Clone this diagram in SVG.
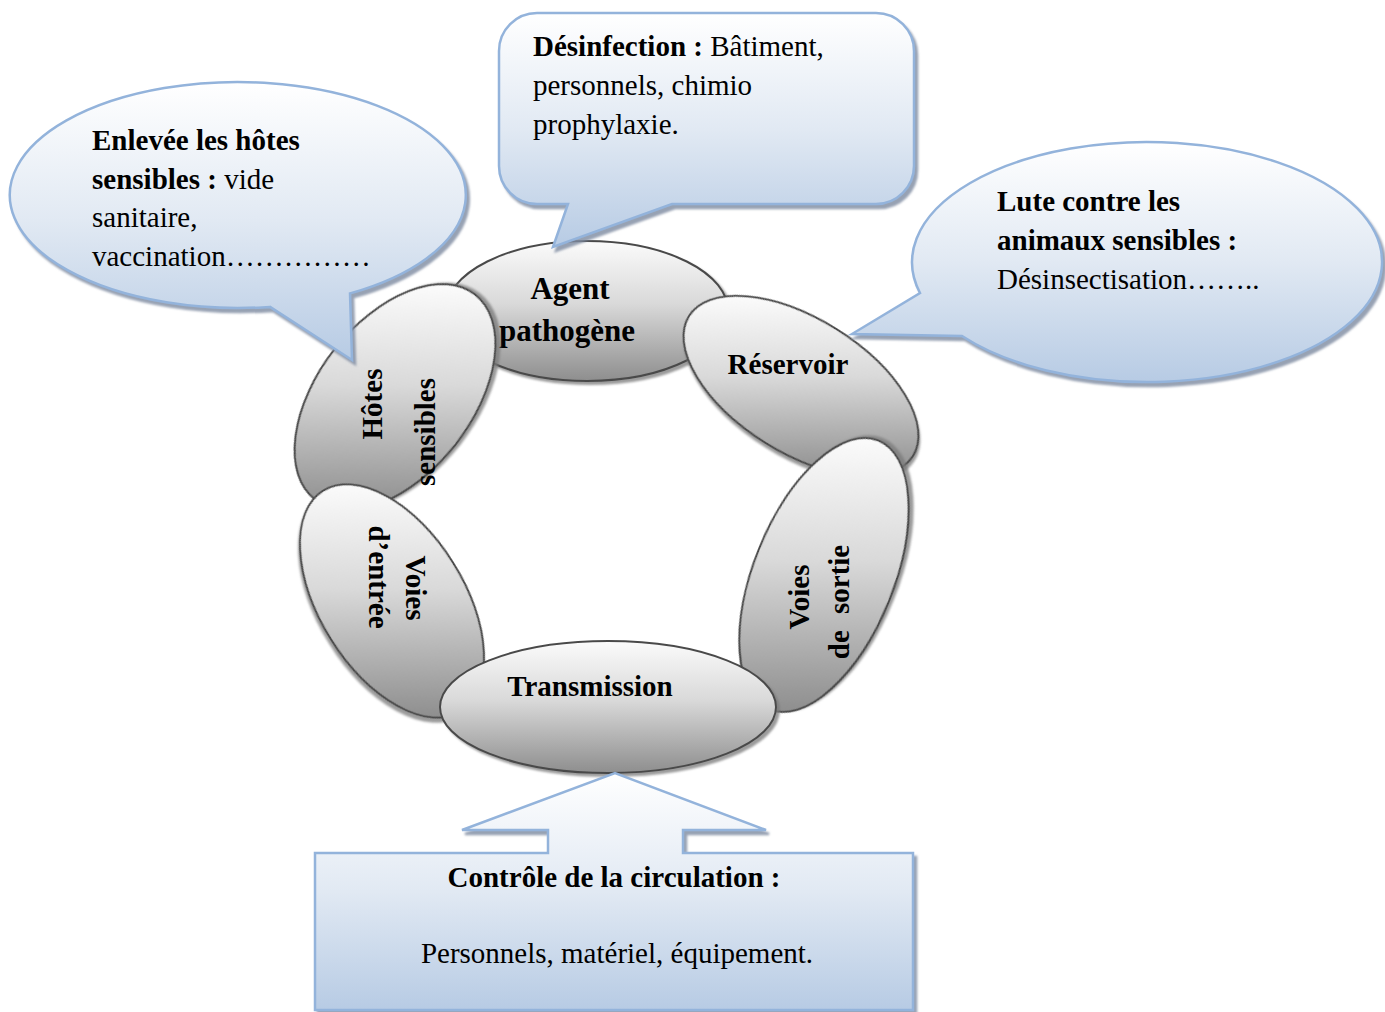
<svg xmlns="http://www.w3.org/2000/svg" xmlns:xlink="http://www.w3.org/1999/xlink" width="1385" height="1012" viewBox="0 0 1385 1012">
<style>
.t{font-family:"Liberation Serif","Times New Roman",serif;font-size:29px;fill:#000}
.b{font-weight:bold}
.node{stroke:#4a4a4a;stroke-width:2}
.call{stroke:#93b3db;stroke-width:2.5}
</style>
<defs>
<linearGradient id="gray" x1="0" y1="0" x2="0" y2="1">
<stop offset="0" stop-color="#fbfbfb"/><stop offset="0.45" stop-color="#d9d9d9"/><stop offset="1" stop-color="#8e8e8e"/>
</linearGradient>
<linearGradient id="gHotes" href="#gray" xlink:href="#gray" gradientUnits="userSpaceOnUse" x1="395" y1="285" x2="395" y2="509" gradientTransform="rotate(52 395 397)"/>
<linearGradient id="gRes" href="#gray" xlink:href="#gray" gradientUnits="userSpaceOnUse" x1="801" y1="296" x2="801" y2="476" gradientTransform="rotate(-32 801 386)"/>
<linearGradient id="gSortie" href="#gray" xlink:href="#gray" gradientUnits="userSpaceOnUse" x1="824" y1="438" x2="824" y2="712" gradientTransform="rotate(68 824 575)"/>
<linearGradient id="gEntree" href="#gray" xlink:href="#gray" gradientUnits="userSpaceOnUse" x1="392" y1="484" x2="392" y2="718" gradientTransform="rotate(-58 392 601)"/>
<linearGradient id="blue" x1="0" y1="0" x2="0" y2="1">
<stop offset="0" stop-color="#ffffff"/><stop offset="0.5" stop-color="#e1e9f3"/><stop offset="1" stop-color="#b7cbe4"/>
</linearGradient>
<filter id="sh" x="-10%" y="-10%" width="120%" height="125%">
<feDropShadow dx="3" dy="3" stdDeviation="1.2" flood-color="#7a7a7a" flood-opacity="0.75"/>
</filter>
<filter id="shb" x="-10%" y="-10%" width="120%" height="125%">
<feDropShadow dx="3" dy="4" stdDeviation="1.2" flood-color="#7d8aa0" flood-opacity="0.8"/>
</filter>
</defs>

<g id="connectors"></g>

<g id="agent">
<ellipse class="node" cx="587" cy="311" rx="141" ry="70" fill="url(#gray)" filter="url(#sh)"/>
<text class="t b" x="570" y="299" text-anchor="middle" style="font-size:31px">Agent</text>
<text class="t b" x="567" y="341" text-anchor="middle" style="font-size:31px">pathogène</text>
</g>

<g id="hotes">
<ellipse class="node" cx="395" cy="397" rx="130" ry="77" transform="rotate(-52 395 397)" fill="url(#gHotes)" filter="url(#sh)"/>
<text class="t b" transform="translate(382 404) rotate(-90)" text-anchor="middle">Hôtes</text>
<text class="t b" transform="translate(435 432) rotate(-90)" text-anchor="middle">sensibles</text>
</g>

<g id="reservoir">
<ellipse class="node" cx="801" cy="386" rx="132" ry="67" transform="rotate(32 801 386)" fill="url(#gRes)" filter="url(#sh)"/>
<text class="t b" x="788" y="374" text-anchor="middle">Réservoir</text>
</g>

<g id="sortie">
<ellipse class="node" cx="824" cy="575" rx="145" ry="70" transform="rotate(-68 824 575)" fill="url(#gSortie)" filter="url(#sh)"/>
<text class="t b" transform="translate(809 597) rotate(-90)" text-anchor="middle">Voies</text>
<text class="t b" transform="translate(849 602) rotate(-90)" text-anchor="middle"><tspan>de</tspan><tspan dx="9"> sortie</tspan></text>
</g>

<g id="entree">
<ellipse class="node" cx="392" cy="601" rx="130" ry="72" transform="rotate(58 392 601)" fill="url(#gEntree)" filter="url(#sh)"/>
<text class="t b" transform="translate(406 588) rotate(90)" text-anchor="middle">Voies</text>
<text class="t b" transform="translate(369 577) rotate(90)" text-anchor="middle">d’entrée</text>
</g>

<g id="transmission">
<ellipse class="node" cx="608" cy="707" rx="168" ry="66" fill="url(#gray)" filter="url(#sh)"/>
<text class="t b" x="590" y="696" text-anchor="middle">Transmission</text>
</g>

<g id="callout-hotes">
<path class="call" d="M350 293.4 A228 113 0 1 0 270 306.9 L352 360 Z" fill="url(#blue)" filter="url(#shb)"/>
<text class="t" x="92" y="150"><tspan class="b">Enlevée les hôtes</tspan></text>
<text class="t" x="92" y="189"><tspan class="b">sensibles :</tspan> vide</text>
<text class="t" x="92" y="227">sanitaire,</text>
<text class="t" x="92" y="266">vaccination……………</text>
</g>

<g id="callout-desinfection">
<path class="call" d="M537 13 H876 A38 38 0 0 1 914 51 V166 A38 38 0 0 1 876 204 H672 L553 247 L568 204 H537 A38 38 0 0 1 499 166 V51 A38 38 0 0 1 537 13 Z" fill="url(#blue)" filter="url(#shb)"/>
<text class="t" x="533" y="56"><tspan class="b">Désinfection :</tspan> Bâtiment,</text>
<text class="t" x="533" y="95">personnels, chimio</text>
<text class="t" x="533" y="134">prophylaxie.</text>
</g>

<g id="callout-animaux">
<path class="call" d="M920 293 A235 120 0 1 1 962 336 L852 334 Z" fill="url(#blue)" filter="url(#shb)"/>
<text class="t b" x="997" y="211">Lute contre les</text>
<text class="t b" x="997" y="250">animaux sensibles :</text>
<text class="t" x="997" y="289">Désinsectisation……..</text>
</g>

<g id="callout-circulation">
<path class="call" d="M315 853 H548 V830 H462 L615 773 L766 830 H683 V853 H913 V1010 H315 Z" fill="url(#blue)" filter="url(#shb)"/>
<text class="t b" x="614" y="887" text-anchor="middle">Contrôle de la circulation :</text>
<text class="t" x="617" y="963" text-anchor="middle">Personnels, matériel, équipement.</text>
</g>
</svg>
